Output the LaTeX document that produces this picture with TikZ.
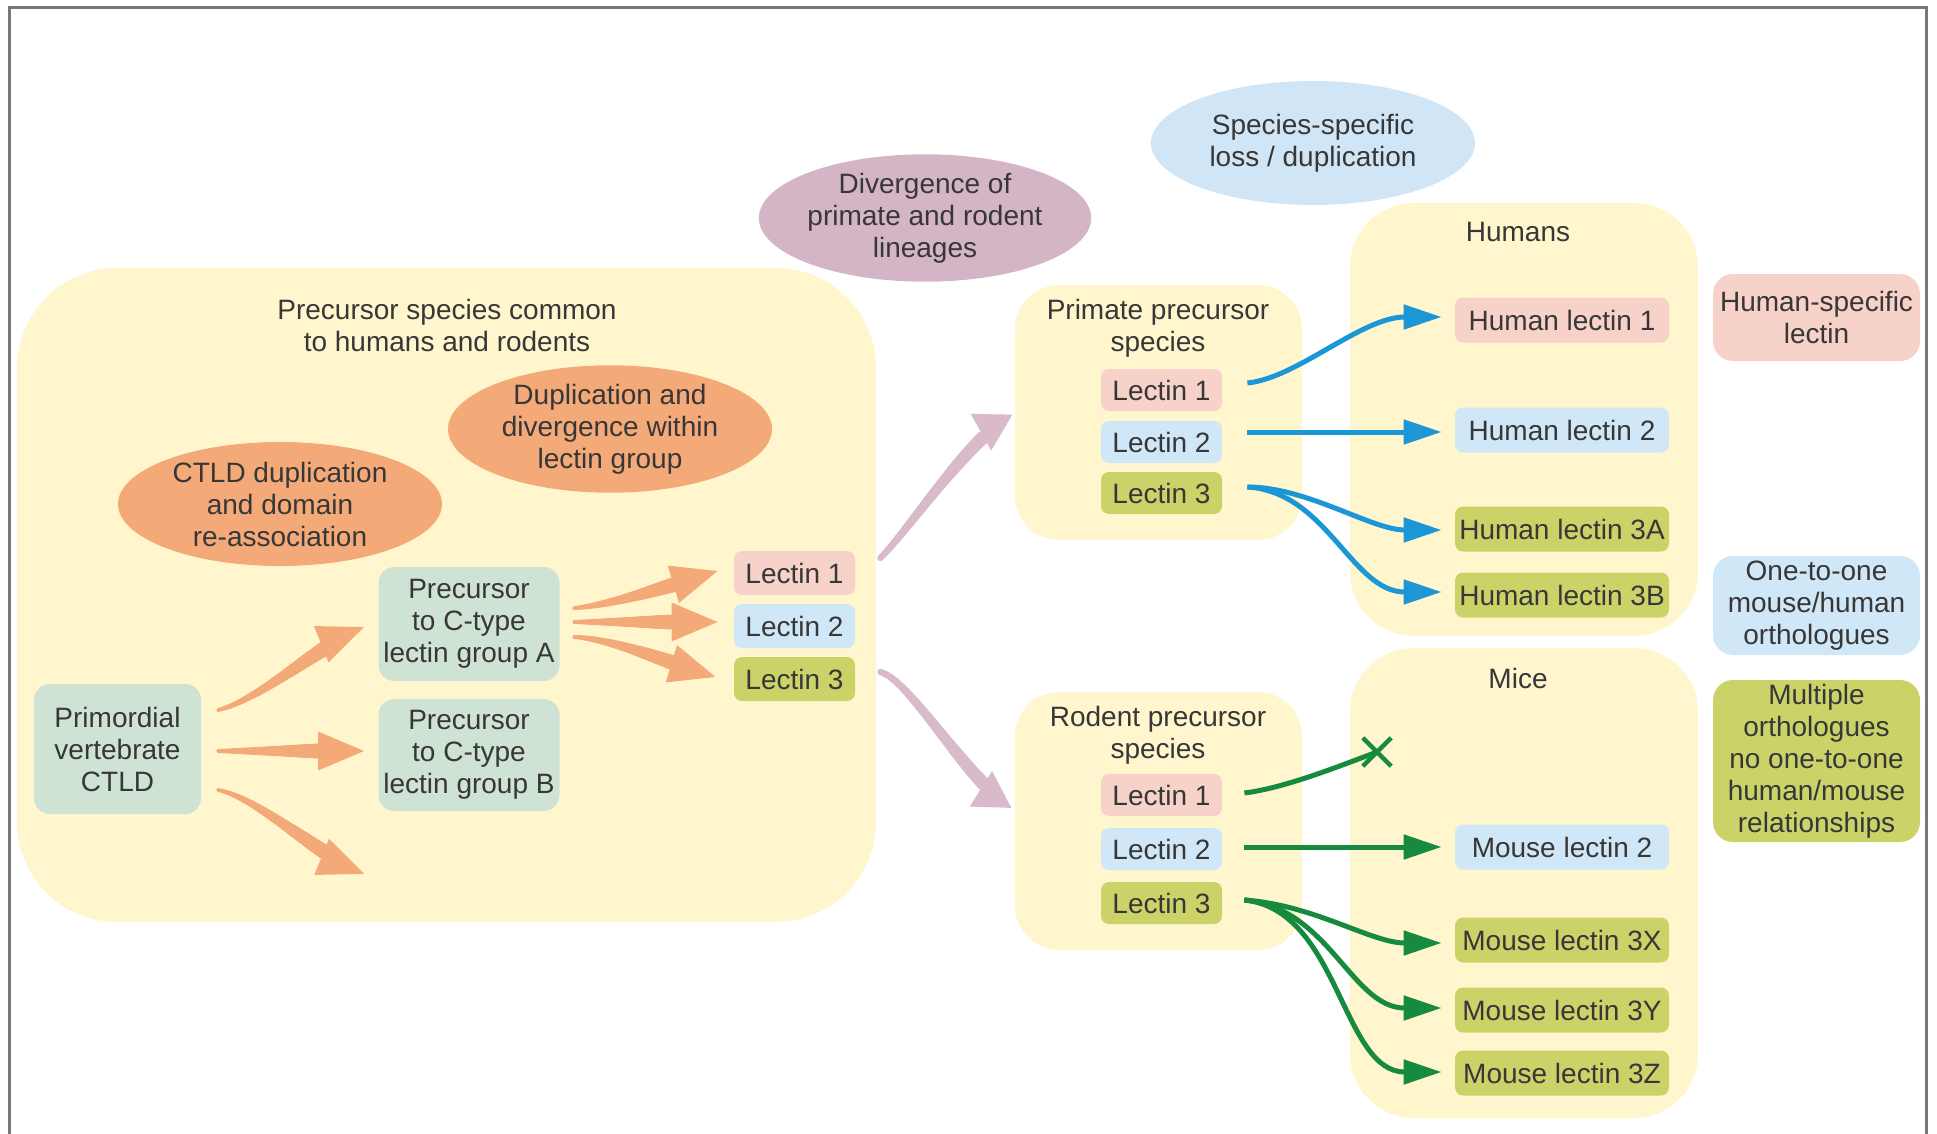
\documentclass[tikz,border=0pt]{standalone}
\usepackage{fontspec}
\setmainfont{Liberation Sans}
\usetikzlibrary{arrows.meta,shapes.geometric,shapes.misc,decorations.markings,calc}

\definecolor{panelY}{RGB}{255,246,206}
\definecolor{orangeC}{RGB}{244,170,120}
\definecolor{mauveC}{RGB}{212,181,198}
\definecolor{mauveA}{RGB}{216,186,202}
\definecolor{skyC}{RGB}{208,230,246}
\definecolor{tealC}{RGB}{207,227,213}
\definecolor{pinkC}{RGB}{247,210,200}
\definecolor{lblueC}{RGB}{208,231,247}
\definecolor{oliveC}{RGB}{203,211,104}
\definecolor{blueA}{RGB}{27,150,214}
\definecolor{greenA}{RGB}{22,138,62}
\definecolor{txtC}{RGB}{55,55,55}
\definecolor{frameC}{RGB}{120,120,120}

\tikzset{
  panelbox/.style={fill=panelY, draw=none, inner sep=0pt},
  lbox/.style={rounded corners=4pt, inner sep=0pt, align=center},
  blob/.style={ellipse, inner sep=0pt, align=center, minimum width=162pt, minimum height=62pt},
  smallL/.style={lbox, minimum width=60.5pt, minimum height=21pt},
  bigL/.style={lbox, minimum width=107pt, minimum height=22.5pt},
  sideL/.style={lbox, rounded corners=10pt, minimum width=103.5pt},
  tapered/.style n args={5}{
    postaction={decorate, decoration={markings,
      mark=between positions 0 and -#4 step 0.8pt with {
        \pgfmathsetmacro\tr{#2+(#3-#2)*\pgfkeysvalueof{/pgf/decoration/mark info/distance from start}/(\pgfdecoratedpathlength-#4)}
        \fill[#1] (0,0) circle[radius=\tr pt];
      },
      mark=at position 1 with {\fill[#1] (0pt,0pt) -- (-#4,#5) -- (-#4,-#5) -- cycle;}
    }}
  },
  orangetaper/.style={tapered={orangeC}{1}{3.75}{23pt}{9.75pt}},
  mauvetaper/.style={tapered={mauveA}{1.6}{3.4}{18pt}{10.5pt}},
  bluearrow/.style={draw=blueA, line width=2.5pt, -{Triangle[length=19pt,width=12pt]}},
  greenarrow/.style={draw=greenA, line width=2.5pt, -{Triangle[length=19pt,width=12pt]}},
  greenline/.style={draw=greenA, line width=2.5pt}
}

\begin{document}
\begin{tikzpicture}[x=0.5pt,y=-0.5pt, font=\fontsize{14pt}{16pt}\selectfont, text=txtC]
\useasboundingbox (0,0) rectangle (1937,1134);

% frame
\draw[frameC, line width=1.5pt] (9,1134) -- (9,8) -- (1926,8) -- (1926,1134);

% panels
\node[panelbox, rounded corners=50pt, minimum width=429.5pt, minimum height=327pt] (leftp) at (446.5,595) {};
\node[panelbox, rounded corners=22pt, minimum width=143.5pt, minimum height=127.5pt] (primp) at (1158.5,412.5) {};
\node[panelbox, rounded corners=22pt, minimum width=143.5pt, minimum height=129pt] (rodp) at (1158.5,821) {};
\node[panelbox, rounded corners=32pt, minimum width=174pt, minimum height=216.5pt] (hump) at (1524,419.5) {};
\node[panelbox, rounded corners=32pt, minimum width=174pt, minimum height=235pt] (micep) at (1524,883) {};

% titles
\node[align=center] (lefttitle) at (447,325) {Precursor species common\\to humans and rodents};
\node[align=center] (primtitle) at (1158,328) {Primate precursor\\species};
\node[align=center] (rodtitle) at (1158,735) {Rodent precursor\\species};
\node (humtitle) at (1518,232) {Humans};
\node (micetitle) at (1518,678) {Mice};

% ellipses
\node[blob, fill=orangeC] (dup) at (610,429) {Duplication and\\divergence within\\lectin group};
\node[blob, fill=orangeC] (ctld) at (280,504) {CTLD duplication\\and domain\\re-association};
\node[blob, fill=mauveC] (diverg) at (925,218) {Divergence of\\primate and rodent\\lineages};
\node[blob, fill=skyC] (specloss) at (1313,143) {Species-specific\\loss / duplication};

% left boxes
\node[lbox, fill=tealC, rounded corners=8pt, minimum width=83.5pt, minimum height=65pt] (prim) at (117.5,749) {Primordial\\vertebrate\\CTLD};
\node[lbox, fill=tealC, rounded corners=8pt, minimum width=90.5pt, minimum height=57pt] (grpA) at (469,624) {Precursor\\to C-type\\lectin group A};
\node[lbox, fill=tealC, rounded corners=8pt, minimum width=90.5pt, minimum height=56pt] (grpB) at (469,755) {Precursor\\to C-type\\lectin group B};
\coordinate (a3end) at (364.5,874);

\node[smallL, fill=pinkC, minimum height=22pt] (ll1) at (794.5,573) {Lectin 1};
\node[smallL, fill=lblueC, minimum height=22pt] (ll2) at (794.5,626) {Lectin 2};
\node[smallL, fill=oliveC, minimum height=22pt] (ll3) at (794.5,679) {Lectin 3};

% primate / rodent lectins
\node[smallL, fill=pinkC] (pl1) at (1161.5,390) {Lectin 1};
\node[smallL, fill=lblueC] (pl2) at (1161.5,442) {Lectin 2};
\node[smallL, fill=oliveC] (pl3) at (1161.5,493) {Lectin 3};
\node[smallL, fill=pinkC] (rl1) at (1161.5,795) {Lectin 1};
\node[smallL, fill=lblueC] (rl2) at (1161.5,849) {Lectin 2};
\node[smallL, fill=oliveC] (rl3) at (1161.5,903) {Lectin 3};

% human / mouse lectins
\node[bigL, fill=pinkC] (h1) at (1562,320) {Human lectin 1};
\node[bigL, fill=lblueC] (h2) at (1562,430) {Human lectin 2};
\node[bigL, fill=oliveC] (h3a) at (1562,529) {Human lectin 3A};
\node[bigL, fill=oliveC] (h3b) at (1562,595) {Human lectin 3B};
\node[bigL, fill=lblueC] (m2) at (1562,847) {Mouse lectin 2};
\node[bigL, fill=oliveC] (m3x) at (1562,940) {Mouse lectin 3X};
\node[bigL, fill=oliveC] (m3y) at (1562,1010) {Mouse lectin 3Y};
\node[bigL, fill=oliveC] (m3z) at (1562,1073) {Mouse lectin 3Z};
\node[cross out, draw=greenA, line width=2.2pt, minimum width=12pt, minimum height=12pt, inner sep=0pt] (xm) at (1377,752) {};

% side legends
\node[sideL, fill=pinkC, minimum height=43.5pt] (hspec) at (1816.5,317.5) {Human-specific\\lectin};
\node[sideL, fill=lblueC, minimum height=49.5pt] (one) at (1816.5,605.5) {One-to-one\\mouse/human\\orthologues};
\node[sideL, fill=oliveC, minimum height=81pt] (multi) at (1816.5,761) {Multiple\\orthologues\\no one-to-one\\human/mouse\\relationships};

% orange tapered arrows
\path[orangetaper] ($(prim.east)+(17,-39)$) .. controls +(45,-12) and +(-45,18) .. ($(grpA.west)+(-14,3)$);
\path[orangetaper] ($(prim.east)+(17,2)$) -- ($(grpB.west)+(-14,-4)$);
\path[orangetaper] ($(prim.east)+(17,41)$) .. controls +(40,8) and +(-45,-18) .. (a3end);
\path[orangetaper] ($(grpA.east)+(14.5,-16)$) .. controls +(40,-3) and +(-40,12) .. ($(ll1.west)+(-16,-2)$);
\path[orangetaper] ($(grpA.east)+(14.5,-2)$) -- ($(ll2.west)+(-16,-4)$);
\path[orangetaper] ($(grpA.east)+(14.5,13)$) .. controls +(40,2) and +(-40,-12) .. ($(ll3.west)+(-18,-2)$);

% mauve tapered arrows
\path[mauvetaper] ($(ll1.east)+(25,-15)$) .. controls +(30,-30) and +(-45,25) .. ($(primp.west)+(-2,2)$);
\path[mauvetaper] ($(ll3.east)+(25,-7)$) .. controls +(30,8) and +(-45,-28) .. ($(rodp.west)+(-3,-13)$);

% blue arrows
\draw[bluearrow] ($(pl1.east)+(25,-7)$) .. controls +(50,-5) and +(-80,0) .. ($(h1.west)+(-13,-3)$);
\draw[bluearrow] ($(pl2.east)+(25,-10)$) -- ($(h2.west)+(-13,2)$);
\draw[bluearrow] ($(pl3.east)+(25,-6)$) .. controls +(60,0) and +(-70,0) .. ($(h3a.west)+(-13,1)$);
\draw[bluearrow] ($(pl3.east)+(25,-6)$) .. controls +(80,5) and +(-90,0) .. ($(h3b.west)+(-13,-3)$);

% green arrows
\draw[greenline] ($(rl1.east)+(22,-2)$) .. controls +(40,-5) and +(-40,15) .. (xm.center);
\draw[greenarrow] ($(rl2.east)+(22,-2)$) -- ($(m2.west)+(-13,0)$);
\draw[greenarrow] ($(rl3.east)+(22,-3)$) .. controls +(70,5) and +(-70,0) .. ($(m3x.west)+(-13,3)$);
\draw[greenarrow] ($(rl3.east)+(22,-3)$) .. controls +(85,8) and +(-90,0) .. ($(m3y.west)+(-13,-2)$);
\draw[greenarrow] ($(rl3.east)+(22,-3)$) .. controls +(95,10) and +(-100,0) .. ($(m3z.west)+(-13,-1)$);
\end{tikzpicture}
\end{document}
